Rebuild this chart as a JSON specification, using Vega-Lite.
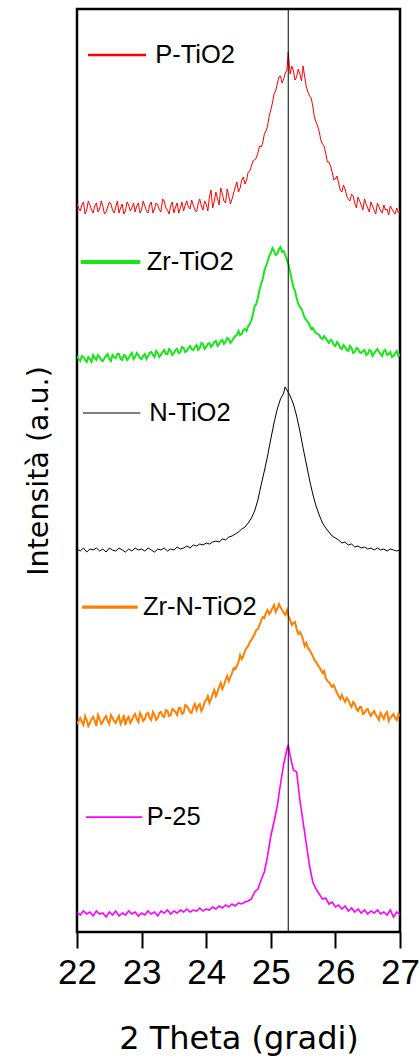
{
  "$schema": "https://vega.github.io/schema/vega-lite/v6.json",
  "width": 323,
  "height": 923,
  "autosize": {"type": "none"},
  "padding": {"left": 77, "top": 9, "right": 20, "bottom": 127},
  "background": "white",
  "config": {"view": {"stroke": "black", "strokeWidth": 2.5}},
  "datasets": {
    "scans": [
      {"s":"P-TiO2","t":22,"v":728},{"s":"P-TiO2","t":22.05,"v":721},{"s":"P-TiO2","t":22.1,"v":730},{"s":"P-TiO2","t":22.15,"v":722},{"s":"P-TiO2","t":22.2,"v":727},
      {"s":"P-TiO2","t":22.25,"v":719},{"s":"P-TiO2","t":22.3,"v":729},{"s":"P-TiO2","t":22.35,"v":723},{"s":"P-TiO2","t":22.4,"v":726},{"s":"P-TiO2","t":22.45,"v":720},
      {"s":"P-TiO2","t":22.5,"v":730},{"s":"P-TiO2","t":22.55,"v":722},{"s":"P-TiO2","t":22.6,"v":725},{"s":"P-TiO2","t":22.65,"v":719},{"s":"P-TiO2","t":22.7,"v":728},
      {"s":"P-TiO2","t":22.75,"v":721},{"s":"P-TiO2","t":22.8,"v":727},{"s":"P-TiO2","t":22.85,"v":724},{"s":"P-TiO2","t":22.9,"v":720},{"s":"P-TiO2","t":22.95,"v":729},
      {"s":"P-TiO2","t":23,"v":722},{"s":"P-TiO2","t":23.05,"v":726},{"s":"P-TiO2","t":23.1,"v":719},{"s":"P-TiO2","t":23.15,"v":730},{"s":"P-TiO2","t":23.2,"v":723},
      {"s":"P-TiO2","t":23.25,"v":727},{"s":"P-TiO2","t":23.3,"v":720},{"s":"P-TiO2","t":23.35,"v":731},{"s":"P-TiO2","t":23.4,"v":722},{"s":"P-TiO2","t":23.45,"v":726},
      {"s":"P-TiO2","t":23.5,"v":719},{"s":"P-TiO2","t":23.55,"v":729},{"s":"P-TiO2","t":23.6,"v":724},{"s":"P-TiO2","t":23.65,"v":721},{"s":"P-TiO2","t":23.7,"v":731},
      {"s":"P-TiO2","t":23.75,"v":723},{"s":"P-TiO2","t":23.8,"v":727},{"s":"P-TiO2","t":23.85,"v":720},{"s":"P-TiO2","t":23.9,"v":733},{"s":"P-TiO2","t":23.95,"v":722},
      {"s":"P-TiO2","t":24,"v":728},{"s":"P-TiO2","t":24.05,"v":735},{"s":"P-TiO2","t":24.1,"v":724},{"s":"P-TiO2","t":24.15,"v":740},{"s":"P-TiO2","t":24.2,"v":727},
      {"s":"P-TiO2","t":24.25,"v":738},{"s":"P-TiO2","t":24.3,"v":729},{"s":"P-TiO2","t":24.35,"v":736},{"s":"P-TiO2","t":24.4,"v":733},{"s":"P-TiO2","t":24.45,"v":745},
      {"s":"P-TiO2","t":24.5,"v":740},{"s":"P-TiO2","t":24.55,"v":752},{"s":"P-TiO2","t":24.6,"v":748},{"s":"P-TiO2","t":24.65,"v":760},{"s":"P-TiO2","t":24.7,"v":766},
      {"s":"P-TiO2","t":24.75,"v":772},{"s":"P-TiO2","t":24.8,"v":779},{"s":"P-TiO2","t":24.85,"v":785},{"s":"P-TiO2","t":24.9,"v":798},{"s":"P-TiO2","t":24.95,"v":806},
      {"s":"P-TiO2","t":25,"v":822},{"s":"P-TiO2","t":25.05,"v":838},{"s":"P-TiO2","t":25.1,"v":848},{"s":"P-TiO2","t":25.15,"v":856},{"s":"P-TiO2","t":25.2,"v":853},
      {"s":"P-TiO2","t":25.25,"v":862},{"s":"P-TiO2","t":25.27,"v":880},{"s":"P-TiO2","t":25.3,"v":858},{"s":"P-TiO2","t":25.35,"v":861},{"s":"P-TiO2","t":25.4,"v":855},{"s":"P-TiO2","t":25.45,"v":858},
      {"s":"P-TiO2","t":25.5,"v":866},{"s":"P-TiO2","t":25.55,"v":845},{"s":"P-TiO2","t":25.6,"v":836},{"s":"P-TiO2","t":25.65,"v":826},{"s":"P-TiO2","t":25.7,"v":810},
      {"s":"P-TiO2","t":25.75,"v":800},{"s":"P-TiO2","t":25.8,"v":788},{"s":"P-TiO2","t":25.85,"v":779},{"s":"P-TiO2","t":25.9,"v":770},{"s":"P-TiO2","t":25.95,"v":760},
      {"s":"P-TiO2","t":26,"v":753},{"s":"P-TiO2","t":26.05,"v":749},{"s":"P-TiO2","t":26.1,"v":740},{"s":"P-TiO2","t":26.15,"v":743},{"s":"P-TiO2","t":26.2,"v":733},
      {"s":"P-TiO2","t":26.25,"v":738},{"s":"P-TiO2","t":26.3,"v":729},{"s":"P-TiO2","t":26.35,"v":735},{"s":"P-TiO2","t":26.4,"v":727},{"s":"P-TiO2","t":26.45,"v":733},
      {"s":"P-TiO2","t":26.5,"v":724},{"s":"P-TiO2","t":26.55,"v":730},{"s":"P-TiO2","t":26.6,"v":722},{"s":"P-TiO2","t":26.65,"v":729},{"s":"P-TiO2","t":26.7,"v":721},
      {"s":"P-TiO2","t":26.75,"v":727},{"s":"P-TiO2","t":26.8,"v":723},{"s":"P-TiO2","t":26.85,"v":726},{"s":"P-TiO2","t":26.9,"v":720},{"s":"P-TiO2","t":26.95,"v":724},
      {"s":"P-TiO2","t":27,"v":721},
      {"s":"P-TiO2","t":22.025,"v":724},{"s":"P-TiO2","t":22.075,"v":727},{"s":"P-TiO2","t":22.125,"v":718},{"s":"P-TiO2","t":22.175,"v":731},{"s":"P-TiO2","t":22.225,"v":722},
      {"s":"P-TiO2","t":22.275,"v":726},{"s":"P-TiO2","t":22.325,"v":720},{"s":"P-TiO2","t":22.375,"v":731},{"s":"P-TiO2","t":22.425,"v":718},{"s":"P-TiO2","t":22.475,"v":725},
      {"s":"P-TiO2","t":22.525,"v":728},{"s":"P-TiO2","t":22.575,"v":719},{"s":"P-TiO2","t":22.625,"v":731},{"s":"P-TiO2","t":22.675,"v":724},{"s":"P-TiO2","t":22.725,"v":718},
      {"s":"P-TiO2","t":22.775,"v":730},{"s":"P-TiO2","t":22.825,"v":721},{"s":"P-TiO2","t":22.875,"v":729},{"s":"P-TiO2","t":22.925,"v":726},{"s":"P-TiO2","t":22.975,"v":719},
      {"s":"P-TiO2","t":23.025,"v":731},{"s":"P-TiO2","t":23.075,"v":721},{"s":"P-TiO2","t":23.125,"v":727},{"s":"P-TiO2","t":23.175,"v":719},{"s":"P-TiO2","t":23.225,"v":729},
      {"s":"P-TiO2","t":23.275,"v":722},{"s":"P-TiO2","t":23.325,"v":733},{"s":"P-TiO2","t":23.375,"v":724},{"s":"P-TiO2","t":23.425,"v":718},{"s":"P-TiO2","t":23.475,"v":730},
      {"s":"P-TiO2","t":23.525,"v":725},{"s":"P-TiO2","t":23.575,"v":719},{"s":"P-TiO2","t":23.625,"v":730},{"s":"P-TiO2","t":23.675,"v":727},{"s":"P-TiO2","t":23.725,"v":725},
      {"s":"P-TiO2","t":23.775,"v":732},{"s":"P-TiO2","t":23.825,"v":722},{"s":"P-TiO2","t":23.875,"v":728},{"s":"P-TiO2","t":23.925,"v":726},{"s":"P-TiO2","t":23.975,"v":731},
      {"s":"P-TiO2","t":24.025,"v":721},{"s":"P-TiO2","t":24.075,"v":742},{"s":"P-TiO2","t":24.125,"v":731},{"s":"P-TiO2","t":24.175,"v":733},{"s":"P-TiO2","t":24.225,"v":744},
      {"s":"P-TiO2","t":24.275,"v":731},{"s":"P-TiO2","t":24.325,"v":743},{"s":"P-TiO2","t":24.375,"v":728},{"s":"P-TiO2","t":24.425,"v":739},{"s":"P-TiO2","t":24.475,"v":750},
      {"s":"P-TiO2","t":24.525,"v":744},{"s":"P-TiO2","t":24.575,"v":755},{"s":"P-TiO2","t":24.625,"v":752},{"s":"P-TiO2","t":24.675,"v":761},{"s":"P-TiO2","t":24.725,"v":771},
      {"s":"P-TiO2","t":24.775,"v":774},{"s":"P-TiO2","t":24.825,"v":786},{"s":"P-TiO2","t":24.875,"v":789},{"s":"P-TiO2","t":24.925,"v":801},{"s":"P-TiO2","t":24.975,"v":816},
      {"s":"P-TiO2","t":25.025,"v":829},{"s":"P-TiO2","t":25.075,"v":841},{"s":"P-TiO2","t":25.125,"v":855},{"s":"P-TiO2","t":25.175,"v":849},{"s":"P-TiO2","t":25.225,"v":859},
      {"s":"P-TiO2","t":25.325,"v":866},{"s":"P-TiO2","t":25.375,"v":852},{"s":"P-TiO2","t":25.425,"v":863},{"s":"P-TiO2","t":25.475,"v":851},
      {"s":"P-TiO2","t":25.525,"v":855},{"s":"P-TiO2","t":25.575,"v":840},{"s":"P-TiO2","t":25.625,"v":834},{"s":"P-TiO2","t":25.675,"v":815},{"s":"P-TiO2","t":25.725,"v":806},
      {"s":"P-TiO2","t":25.775,"v":792},{"s":"P-TiO2","t":25.825,"v":786},{"s":"P-TiO2","t":25.875,"v":770},{"s":"P-TiO2","t":25.925,"v":766},{"s":"P-TiO2","t":25.975,"v":752},
      {"s":"P-TiO2","t":26.025,"v":756},{"s":"P-TiO2","t":26.075,"v":742},{"s":"P-TiO2","t":26.125,"v":747},{"s":"P-TiO2","t":26.175,"v":736},{"s":"P-TiO2","t":26.225,"v":731},
      {"s":"P-TiO2","t":26.275,"v":736},{"s":"P-TiO2","t":26.325,"v":724},{"s":"P-TiO2","t":26.375,"v":731},{"s":"P-TiO2","t":26.425,"v":722},{"s":"P-TiO2","t":26.475,"v":728},
      {"s":"P-TiO2","t":26.525,"v":720},{"s":"P-TiO2","t":26.575,"v":726},{"s":"P-TiO2","t":26.625,"v":718},{"s":"P-TiO2","t":26.675,"v":725},{"s":"P-TiO2","t":26.725,"v":719},
      {"s":"P-TiO2","t":26.775,"v":722},{"s":"P-TiO2","t":26.825,"v":717},{"s":"P-TiO2","t":26.875,"v":723},{"s":"P-TiO2","t":26.925,"v":718},{"s":"P-TiO2","t":26.975,"v":719},

      {"s":"Zr-TiO2","t":22,"v":576},{"s":"Zr-TiO2","t":22.05,"v":571},{"s":"Zr-TiO2","t":22.1,"v":575},{"s":"Zr-TiO2","t":22.15,"v":570},{"s":"Zr-TiO2","t":22.2,"v":573},
      {"s":"Zr-TiO2","t":22.25,"v":577},{"s":"Zr-TiO2","t":22.3,"v":572},{"s":"Zr-TiO2","t":22.35,"v":575},{"s":"Zr-TiO2","t":22.4,"v":571},{"s":"Zr-TiO2","t":22.45,"v":576},
      {"s":"Zr-TiO2","t":22.5,"v":573},{"s":"Zr-TiO2","t":22.55,"v":577},{"s":"Zr-TiO2","t":22.6,"v":574},{"s":"Zr-TiO2","t":22.65,"v":578},{"s":"Zr-TiO2","t":22.7,"v":572},
      {"s":"Zr-TiO2","t":22.75,"v":576},{"s":"Zr-TiO2","t":22.8,"v":574},{"s":"Zr-TiO2","t":22.85,"v":579},{"s":"Zr-TiO2","t":22.9,"v":575},{"s":"Zr-TiO2","t":22.95,"v":577},
      {"s":"Zr-TiO2","t":23,"v":573},{"s":"Zr-TiO2","t":23.05,"v":578},{"s":"Zr-TiO2","t":23.1,"v":576},{"s":"Zr-TiO2","t":23.15,"v":580},{"s":"Zr-TiO2","t":23.2,"v":575},
      {"s":"Zr-TiO2","t":23.25,"v":579},{"s":"Zr-TiO2","t":23.3,"v":577},{"s":"Zr-TiO2","t":23.35,"v":582},{"s":"Zr-TiO2","t":23.4,"v":578},{"s":"Zr-TiO2","t":23.45,"v":581},
      {"s":"Zr-TiO2","t":23.5,"v":579},{"s":"Zr-TiO2","t":23.55,"v":583},{"s":"Zr-TiO2","t":23.6,"v":580},{"s":"Zr-TiO2","t":23.65,"v":584},{"s":"Zr-TiO2","t":23.7,"v":581},
      {"s":"Zr-TiO2","t":23.75,"v":586},{"s":"Zr-TiO2","t":23.8,"v":582},{"s":"Zr-TiO2","t":23.85,"v":587},{"s":"Zr-TiO2","t":23.9,"v":584},{"s":"Zr-TiO2","t":23.95,"v":588},
      {"s":"Zr-TiO2","t":24,"v":585},{"s":"Zr-TiO2","t":24.05,"v":589},{"s":"Zr-TiO2","t":24.1,"v":587},{"s":"Zr-TiO2","t":24.15,"v":591},{"s":"Zr-TiO2","t":24.2,"v":588},
      {"s":"Zr-TiO2","t":24.25,"v":592},{"s":"Zr-TiO2","t":24.3,"v":590},{"s":"Zr-TiO2","t":24.35,"v":593},{"s":"Zr-TiO2","t":24.4,"v":591},{"s":"Zr-TiO2","t":24.45,"v":596},
      {"s":"Zr-TiO2","t":24.5,"v":601},{"s":"Zr-TiO2","t":24.55,"v":598},{"s":"Zr-TiO2","t":24.6,"v":603},{"s":"Zr-TiO2","t":24.65,"v":606},{"s":"Zr-TiO2","t":24.7,"v":612},
      {"s":"Zr-TiO2","t":24.75,"v":626},{"s":"Zr-TiO2","t":24.8,"v":634},{"s":"Zr-TiO2","t":24.85,"v":648},{"s":"Zr-TiO2","t":24.9,"v":661},{"s":"Zr-TiO2","t":24.95,"v":670},
      {"s":"Zr-TiO2","t":25,"v":679},{"s":"Zr-TiO2","t":25.05,"v":681},{"s":"Zr-TiO2","t":25.1,"v":678},{"s":"Zr-TiO2","t":25.15,"v":685},{"s":"Zr-TiO2","t":25.2,"v":681},
      {"s":"Zr-TiO2","t":25.25,"v":672},{"s":"Zr-TiO2","t":25.3,"v":660},{"s":"Zr-TiO2","t":25.35,"v":645},{"s":"Zr-TiO2","t":25.4,"v":634},{"s":"Zr-TiO2","t":25.45,"v":625},
      {"s":"Zr-TiO2","t":25.5,"v":619},{"s":"Zr-TiO2","t":25.55,"v":612},{"s":"Zr-TiO2","t":25.6,"v":607},{"s":"Zr-TiO2","t":25.65,"v":604},{"s":"Zr-TiO2","t":25.7,"v":599},
      {"s":"Zr-TiO2","t":25.75,"v":597},{"s":"Zr-TiO2","t":25.8,"v":593},{"s":"Zr-TiO2","t":25.85,"v":594},{"s":"Zr-TiO2","t":25.9,"v":589},{"s":"Zr-TiO2","t":25.95,"v":591},
      {"s":"Zr-TiO2","t":26,"v":586},{"s":"Zr-TiO2","t":26.05,"v":588},{"s":"Zr-TiO2","t":26.1,"v":583},{"s":"Zr-TiO2","t":26.15,"v":585},{"s":"Zr-TiO2","t":26.2,"v":581},
      {"s":"Zr-TiO2","t":26.25,"v":584},{"s":"Zr-TiO2","t":26.3,"v":580},{"s":"Zr-TiO2","t":26.35,"v":583},{"s":"Zr-TiO2","t":26.4,"v":579},{"s":"Zr-TiO2","t":26.45,"v":582},
      {"s":"Zr-TiO2","t":26.5,"v":578},{"s":"Zr-TiO2","t":26.55,"v":581},{"s":"Zr-TiO2","t":26.6,"v":579},{"s":"Zr-TiO2","t":26.65,"v":583},{"s":"Zr-TiO2","t":26.7,"v":578},
      {"s":"Zr-TiO2","t":26.75,"v":581},{"s":"Zr-TiO2","t":26.8,"v":577},{"s":"Zr-TiO2","t":26.85,"v":580},{"s":"Zr-TiO2","t":26.9,"v":576},{"s":"Zr-TiO2","t":26.95,"v":581},
      {"s":"Zr-TiO2","t":27,"v":578},
      {"s":"Zr-TiO2","t":22.025,"v":573},{"s":"Zr-TiO2","t":22.075,"v":576},{"s":"Zr-TiO2","t":22.125,"v":572},{"s":"Zr-TiO2","t":22.175,"v":575},{"s":"Zr-TiO2","t":22.225,"v":570},
      {"s":"Zr-TiO2","t":22.275,"v":574},{"s":"Zr-TiO2","t":22.325,"v":577},{"s":"Zr-TiO2","t":22.375,"v":572},{"s":"Zr-TiO2","t":22.425,"v":574},{"s":"Zr-TiO2","t":22.475,"v":578},
      {"s":"Zr-TiO2","t":22.525,"v":571},{"s":"Zr-TiO2","t":22.575,"v":575},{"s":"Zr-TiO2","t":22.625,"v":578},{"s":"Zr-TiO2","t":22.675,"v":573},{"s":"Zr-TiO2","t":22.725,"v":577},
      {"s":"Zr-TiO2","t":22.775,"v":572},{"s":"Zr-TiO2","t":22.825,"v":577},{"s":"Zr-TiO2","t":22.875,"v":573},{"s":"Zr-TiO2","t":22.925,"v":579},{"s":"Zr-TiO2","t":22.975,"v":574},
      {"s":"Zr-TiO2","t":23.025,"v":576},{"s":"Zr-TiO2","t":23.075,"v":573},{"s":"Zr-TiO2","t":23.125,"v":579},{"s":"Zr-TiO2","t":23.175,"v":577},{"s":"Zr-TiO2","t":23.225,"v":581},
      {"s":"Zr-TiO2","t":23.275,"v":575},{"s":"Zr-TiO2","t":23.325,"v":580},{"s":"Zr-TiO2","t":23.375,"v":578},{"s":"Zr-TiO2","t":23.425,"v":583},{"s":"Zr-TiO2","t":23.475,"v":577},
      {"s":"Zr-TiO2","t":23.525,"v":582},{"s":"Zr-TiO2","t":23.575,"v":579},{"s":"Zr-TiO2","t":23.625,"v":585},{"s":"Zr-TiO2","t":23.675,"v":580},{"s":"Zr-TiO2","t":23.725,"v":584},
      {"s":"Zr-TiO2","t":23.775,"v":583},{"s":"Zr-TiO2","t":23.825,"v":585},{"s":"Zr-TiO2","t":23.875,"v":582},{"s":"Zr-TiO2","t":23.925,"v":589},{"s":"Zr-TiO2","t":23.975,"v":583},
      {"s":"Zr-TiO2","t":24.025,"v":588},{"s":"Zr-TiO2","t":24.075,"v":585},{"s":"Zr-TiO2","t":24.125,"v":590},{"s":"Zr-TiO2","t":24.175,"v":586},{"s":"Zr-TiO2","t":24.225,"v":591},
      {"s":"Zr-TiO2","t":24.275,"v":588},{"s":"Zr-TiO2","t":24.325,"v":594},{"s":"Zr-TiO2","t":24.375,"v":589},{"s":"Zr-TiO2","t":24.425,"v":594},{"s":"Zr-TiO2","t":24.475,"v":597},
      {"s":"Zr-TiO2","t":24.525,"v":597},{"s":"Zr-TiO2","t":24.575,"v":602},{"s":"Zr-TiO2","t":24.625,"v":601},{"s":"Zr-TiO2","t":24.675,"v":608},{"s":"Zr-TiO2","t":24.725,"v":618},
      {"s":"Zr-TiO2","t":24.775,"v":628},{"s":"Zr-TiO2","t":24.825,"v":642},{"s":"Zr-TiO2","t":24.875,"v":653},{"s":"Zr-TiO2","t":24.925,"v":666},{"s":"Zr-TiO2","t":24.975,"v":676},
      {"s":"Zr-TiO2","t":25.025,"v":684},{"s":"Zr-TiO2","t":25.075,"v":677},{"s":"Zr-TiO2","t":25.125,"v":683},{"s":"Zr-TiO2","t":25.175,"v":680},{"s":"Zr-TiO2","t":25.225,"v":677},
      {"s":"Zr-TiO2","t":25.275,"v":667},{"s":"Zr-TiO2","t":25.325,"v":652},{"s":"Zr-TiO2","t":25.375,"v":641},{"s":"Zr-TiO2","t":25.425,"v":628},{"s":"Zr-TiO2","t":25.475,"v":623},
      {"s":"Zr-TiO2","t":25.525,"v":614},{"s":"Zr-TiO2","t":25.575,"v":610},{"s":"Zr-TiO2","t":25.625,"v":603},{"s":"Zr-TiO2","t":25.675,"v":601},{"s":"Zr-TiO2","t":25.725,"v":598},
      {"s":"Zr-TiO2","t":25.775,"v":594},{"s":"Zr-TiO2","t":25.825,"v":596},{"s":"Zr-TiO2","t":25.875,"v":591},{"s":"Zr-TiO2","t":25.925,"v":592},{"s":"Zr-TiO2","t":25.975,"v":587},
      {"s":"Zr-TiO2","t":26.025,"v":590},{"s":"Zr-TiO2","t":26.075,"v":584},{"s":"Zr-TiO2","t":26.125,"v":587},{"s":"Zr-TiO2","t":26.175,"v":582},{"s":"Zr-TiO2","t":26.225,"v":586},
      {"s":"Zr-TiO2","t":26.275,"v":579},{"s":"Zr-TiO2","t":26.325,"v":584},{"s":"Zr-TiO2","t":26.375,"v":580},{"s":"Zr-TiO2","t":26.425,"v":581},{"s":"Zr-TiO2","t":26.475,"v":577},
      {"s":"Zr-TiO2","t":26.525,"v":582},{"s":"Zr-TiO2","t":26.575,"v":576},{"s":"Zr-TiO2","t":26.625,"v":581},{"s":"Zr-TiO2","t":26.675,"v":580},{"s":"Zr-TiO2","t":26.725,"v":576},
      {"s":"Zr-TiO2","t":26.775,"v":582},{"s":"Zr-TiO2","t":26.825,"v":578},{"s":"Zr-TiO2","t":26.875,"v":575},{"s":"Zr-TiO2","t":26.925,"v":579},{"s":"Zr-TiO2","t":26.975,"v":576},

      {"s":"N-TiO2","t":22,"v":383},{"s":"N-TiO2","t":22.05,"v":381},{"s":"N-TiO2","t":22.1,"v":384},{"s":"N-TiO2","t":22.15,"v":380},{"s":"N-TiO2","t":22.2,"v":383},
      {"s":"N-TiO2","t":22.25,"v":382},{"s":"N-TiO2","t":22.3,"v":384},{"s":"N-TiO2","t":22.35,"v":381},{"s":"N-TiO2","t":22.4,"v":383},{"s":"N-TiO2","t":22.45,"v":380},
      {"s":"N-TiO2","t":22.5,"v":384},{"s":"N-TiO2","t":22.55,"v":382},{"s":"N-TiO2","t":22.6,"v":381},{"s":"N-TiO2","t":22.65,"v":384},{"s":"N-TiO2","t":22.7,"v":382},
      {"s":"N-TiO2","t":22.75,"v":380},{"s":"N-TiO2","t":22.8,"v":383},{"s":"N-TiO2","t":22.85,"v":381},{"s":"N-TiO2","t":22.9,"v":384},{"s":"N-TiO2","t":22.95,"v":382},
      {"s":"N-TiO2","t":23,"v":383},{"s":"N-TiO2","t":23.05,"v":381},{"s":"N-TiO2","t":23.1,"v":384},{"s":"N-TiO2","t":23.15,"v":382},{"s":"N-TiO2","t":23.2,"v":380},
      {"s":"N-TiO2","t":23.25,"v":383},{"s":"N-TiO2","t":23.3,"v":382},{"s":"N-TiO2","t":23.35,"v":384},{"s":"N-TiO2","t":23.4,"v":381},{"s":"N-TiO2","t":23.45,"v":383},
      {"s":"N-TiO2","t":23.5,"v":382},{"s":"N-TiO2","t":23.55,"v":385},{"s":"N-TiO2","t":23.6,"v":383},{"s":"N-TiO2","t":23.65,"v":384},{"s":"N-TiO2","t":23.7,"v":386},
      {"s":"N-TiO2","t":23.75,"v":384},{"s":"N-TiO2","t":23.8,"v":387},{"s":"N-TiO2","t":23.85,"v":386},{"s":"N-TiO2","t":23.9,"v":388},{"s":"N-TiO2","t":23.95,"v":387},
      {"s":"N-TiO2","t":24,"v":389},{"s":"N-TiO2","t":24.05,"v":388},{"s":"N-TiO2","t":24.1,"v":390},{"s":"N-TiO2","t":24.15,"v":391},{"s":"N-TiO2","t":24.2,"v":390},
      {"s":"N-TiO2","t":24.25,"v":393},{"s":"N-TiO2","t":24.3,"v":392},{"s":"N-TiO2","t":24.35,"v":395},{"s":"N-TiO2","t":24.4,"v":396},{"s":"N-TiO2","t":24.45,"v":398},
      {"s":"N-TiO2","t":24.5,"v":400},{"s":"N-TiO2","t":24.55,"v":403},{"s":"N-TiO2","t":24.6,"v":405},{"s":"N-TiO2","t":24.65,"v":409},{"s":"N-TiO2","t":24.7,"v":414},
      {"s":"N-TiO2","t":24.75,"v":421},{"s":"N-TiO2","t":24.8,"v":432},{"s":"N-TiO2","t":24.85,"v":447},{"s":"N-TiO2","t":24.9,"v":461},{"s":"N-TiO2","t":24.95,"v":476},
      {"s":"N-TiO2","t":25,"v":493},{"s":"N-TiO2","t":25.05,"v":509},{"s":"N-TiO2","t":25.1,"v":523},{"s":"N-TiO2","t":25.15,"v":533},{"s":"N-TiO2","t":25.2,"v":539},
      {"s":"N-TiO2","t":25.22,"v":545},{"s":"N-TiO2","t":25.25,"v":542},{"s":"N-TiO2","t":25.3,"v":536},{"s":"N-TiO2","t":25.35,"v":528},{"s":"N-TiO2","t":25.4,"v":516},{"s":"N-TiO2","t":25.45,"v":501},
      {"s":"N-TiO2","t":25.5,"v":484},{"s":"N-TiO2","t":25.55,"v":468},{"s":"N-TiO2","t":25.6,"v":452},{"s":"N-TiO2","t":25.65,"v":438},{"s":"N-TiO2","t":25.7,"v":426},
      {"s":"N-TiO2","t":25.75,"v":417},{"s":"N-TiO2","t":25.8,"v":409},{"s":"N-TiO2","t":25.85,"v":404},{"s":"N-TiO2","t":25.9,"v":400},{"s":"N-TiO2","t":25.95,"v":396},
      {"s":"N-TiO2","t":26,"v":394},{"s":"N-TiO2","t":26.05,"v":392},{"s":"N-TiO2","t":26.1,"v":389},{"s":"N-TiO2","t":26.15,"v":390},{"s":"N-TiO2","t":26.2,"v":387},
      {"s":"N-TiO2","t":26.25,"v":388},{"s":"N-TiO2","t":26.3,"v":385},{"s":"N-TiO2","t":26.35,"v":386},{"s":"N-TiO2","t":26.4,"v":384},{"s":"N-TiO2","t":26.45,"v":385},
      {"s":"N-TiO2","t":26.5,"v":383},{"s":"N-TiO2","t":26.55,"v":384},{"s":"N-TiO2","t":26.6,"v":382},{"s":"N-TiO2","t":26.65,"v":384},{"s":"N-TiO2","t":26.7,"v":382},
      {"s":"N-TiO2","t":26.75,"v":383},{"s":"N-TiO2","t":26.8,"v":381},{"s":"N-TiO2","t":26.85,"v":383},{"s":"N-TiO2","t":26.9,"v":382},{"s":"N-TiO2","t":26.95,"v":381},
      {"s":"N-TiO2","t":27,"v":382},

      {"s":"Zr-N-TiO2","t":22,"v":208},{"s":"Zr-N-TiO2","t":22.05,"v":214},{"s":"Zr-N-TiO2","t":22.1,"v":207},{"s":"Zr-N-TiO2","t":22.15,"v":212},{"s":"Zr-N-TiO2","t":22.2,"v":209},
      {"s":"Zr-N-TiO2","t":22.25,"v":215},{"s":"Zr-N-TiO2","t":22.3,"v":206},{"s":"Zr-N-TiO2","t":22.35,"v":213},{"s":"Zr-N-TiO2","t":22.4,"v":210},{"s":"Zr-N-TiO2","t":22.45,"v":216},
      {"s":"Zr-N-TiO2","t":22.5,"v":208},{"s":"Zr-N-TiO2","t":22.55,"v":214},{"s":"Zr-N-TiO2","t":22.6,"v":209},{"s":"Zr-N-TiO2","t":22.65,"v":216},{"s":"Zr-N-TiO2","t":22.7,"v":211},
      {"s":"Zr-N-TiO2","t":22.75,"v":207},{"s":"Zr-N-TiO2","t":22.8,"v":215},{"s":"Zr-N-TiO2","t":22.85,"v":212},{"s":"Zr-N-TiO2","t":22.9,"v":218},{"s":"Zr-N-TiO2","t":22.95,"v":210},
      {"s":"Zr-N-TiO2","t":23,"v":216},{"s":"Zr-N-TiO2","t":23.05,"v":213},{"s":"Zr-N-TiO2","t":23.1,"v":219},{"s":"Zr-N-TiO2","t":23.15,"v":212},{"s":"Zr-N-TiO2","t":23.2,"v":217},
      {"s":"Zr-N-TiO2","t":23.25,"v":214},{"s":"Zr-N-TiO2","t":23.3,"v":220},{"s":"Zr-N-TiO2","t":23.35,"v":215},{"s":"Zr-N-TiO2","t":23.4,"v":221},{"s":"Zr-N-TiO2","t":23.45,"v":217},
      {"s":"Zr-N-TiO2","t":23.5,"v":222},{"s":"Zr-N-TiO2","t":23.55,"v":217},{"s":"Zr-N-TiO2","t":23.6,"v":224},{"s":"Zr-N-TiO2","t":23.65,"v":219},{"s":"Zr-N-TiO2","t":23.7,"v":226},
      {"s":"Zr-N-TiO2","t":23.75,"v":220},{"s":"Zr-N-TiO2","t":23.8,"v":225},{"s":"Zr-N-TiO2","t":23.85,"v":222},{"s":"Zr-N-TiO2","t":23.9,"v":228},{"s":"Zr-N-TiO2","t":23.95,"v":224},
      {"s":"Zr-N-TiO2","t":24,"v":232},{"s":"Zr-N-TiO2","t":24.05,"v":229},{"s":"Zr-N-TiO2","t":24.1,"v":238},{"s":"Zr-N-TiO2","t":24.15,"v":236},{"s":"Zr-N-TiO2","t":24.2,"v":245},
      {"s":"Zr-N-TiO2","t":24.25,"v":243},{"s":"Zr-N-TiO2","t":24.3,"v":252},{"s":"Zr-N-TiO2","t":24.35,"v":251},{"s":"Zr-N-TiO2","t":24.4,"v":259},{"s":"Zr-N-TiO2","t":24.45,"v":263},
      {"s":"Zr-N-TiO2","t":24.5,"v":270},{"s":"Zr-N-TiO2","t":24.55,"v":273},{"s":"Zr-N-TiO2","t":24.6,"v":281},{"s":"Zr-N-TiO2","t":24.65,"v":286},{"s":"Zr-N-TiO2","t":24.7,"v":292},
      {"s":"Zr-N-TiO2","t":24.75,"v":298},{"s":"Zr-N-TiO2","t":24.8,"v":303},{"s":"Zr-N-TiO2","t":24.85,"v":311},{"s":"Zr-N-TiO2","t":24.9,"v":314},{"s":"Zr-N-TiO2","t":24.95,"v":322},
      {"s":"Zr-N-TiO2","t":25,"v":320},{"s":"Zr-N-TiO2","t":25.05,"v":327},{"s":"Zr-N-TiO2","t":25.1,"v":323},{"s":"Zr-N-TiO2","t":25.15,"v":325},{"s":"Zr-N-TiO2","t":25.2,"v":319},
      {"s":"Zr-N-TiO2","t":25.25,"v":322},{"s":"Zr-N-TiO2","t":25.3,"v":312},{"s":"Zr-N-TiO2","t":25.35,"v":309},{"s":"Zr-N-TiO2","t":25.4,"v":303},{"s":"Zr-N-TiO2","t":25.45,"v":300},
      {"s":"Zr-N-TiO2","t":25.5,"v":292},{"s":"Zr-N-TiO2","t":25.55,"v":289},{"s":"Zr-N-TiO2","t":25.6,"v":282},{"s":"Zr-N-TiO2","t":25.65,"v":276},{"s":"Zr-N-TiO2","t":25.7,"v":270},
      {"s":"Zr-N-TiO2","t":25.75,"v":265},{"s":"Zr-N-TiO2","t":25.8,"v":259},{"s":"Zr-N-TiO2","t":25.85,"v":254},{"s":"Zr-N-TiO2","t":25.9,"v":250},{"s":"Zr-N-TiO2","t":25.95,"v":245},
      {"s":"Zr-N-TiO2","t":26,"v":243},{"s":"Zr-N-TiO2","t":26.05,"v":236},{"s":"Zr-N-TiO2","t":26.1,"v":237},{"s":"Zr-N-TiO2","t":26.15,"v":230},{"s":"Zr-N-TiO2","t":26.2,"v":232},
      {"s":"Zr-N-TiO2","t":26.25,"v":225},{"s":"Zr-N-TiO2","t":26.3,"v":228},{"s":"Zr-N-TiO2","t":26.35,"v":221},{"s":"Zr-N-TiO2","t":26.4,"v":225},{"s":"Zr-N-TiO2","t":26.45,"v":219},
      {"s":"Zr-N-TiO2","t":26.5,"v":223},{"s":"Zr-N-TiO2","t":26.55,"v":216},{"s":"Zr-N-TiO2","t":26.6,"v":221},{"s":"Zr-N-TiO2","t":26.65,"v":215},{"s":"Zr-N-TiO2","t":26.7,"v":219},
      {"s":"Zr-N-TiO2","t":26.75,"v":213},{"s":"Zr-N-TiO2","t":26.8,"v":220},{"s":"Zr-N-TiO2","t":26.85,"v":214},{"s":"Zr-N-TiO2","t":26.9,"v":218},{"s":"Zr-N-TiO2","t":26.95,"v":212},
      {"s":"Zr-N-TiO2","t":27,"v":216},
      {"s":"Zr-N-TiO2","t":22.025,"v":211},{"s":"Zr-N-TiO2","t":22.075,"v":210},{"s":"Zr-N-TiO2","t":22.125,"v":216},{"s":"Zr-N-TiO2","t":22.175,"v":206},{"s":"Zr-N-TiO2","t":22.225,"v":213},
      {"s":"Zr-N-TiO2","t":22.275,"v":211},{"s":"Zr-N-TiO2","t":22.325,"v":217},{"s":"Zr-N-TiO2","t":22.375,"v":208},{"s":"Zr-N-TiO2","t":22.425,"v":214},{"s":"Zr-N-TiO2","t":22.475,"v":211},
      {"s":"Zr-N-TiO2","t":22.525,"v":217},{"s":"Zr-N-TiO2","t":22.575,"v":211},{"s":"Zr-N-TiO2","t":22.625,"v":213},{"s":"Zr-N-TiO2","t":22.675,"v":208},{"s":"Zr-N-TiO2","t":22.725,"v":217},
      {"s":"Zr-N-TiO2","t":22.775,"v":213},{"s":"Zr-N-TiO2","t":22.825,"v":209},{"s":"Zr-N-TiO2","t":22.875,"v":216},{"s":"Zr-N-TiO2","t":22.925,"v":213},{"s":"Zr-N-TiO2","t":22.975,"v":219},
      {"s":"Zr-N-TiO2","t":23.025,"v":211},{"s":"Zr-N-TiO2","t":23.075,"v":218},{"s":"Zr-N-TiO2","t":23.125,"v":214},{"s":"Zr-N-TiO2","t":23.175,"v":220},{"s":"Zr-N-TiO2","t":23.225,"v":212},
      {"s":"Zr-N-TiO2","t":23.275,"v":219},{"s":"Zr-N-TiO2","t":23.325,"v":216},{"s":"Zr-N-TiO2","t":23.375,"v":222},{"s":"Zr-N-TiO2","t":23.425,"v":216},{"s":"Zr-N-TiO2","t":23.475,"v":223},
      {"s":"Zr-N-TiO2","t":23.525,"v":220},{"s":"Zr-N-TiO2","t":23.575,"v":224},{"s":"Zr-N-TiO2","t":23.625,"v":218},{"s":"Zr-N-TiO2","t":23.675,"v":227},{"s":"Zr-N-TiO2","t":23.725,"v":223},
      {"s":"Zr-N-TiO2","t":23.775,"v":219},{"s":"Zr-N-TiO2","t":23.825,"v":228},{"s":"Zr-N-TiO2","t":23.875,"v":226},{"s":"Zr-N-TiO2","t":23.925,"v":221},{"s":"Zr-N-TiO2","t":23.975,"v":230},
      {"s":"Zr-N-TiO2","t":24.025,"v":236},{"s":"Zr-N-TiO2","t":24.075,"v":233},{"s":"Zr-N-TiO2","t":24.125,"v":242},{"s":"Zr-N-TiO2","t":24.175,"v":240},{"s":"Zr-N-TiO2","t":24.225,"v":249},
      {"s":"Zr-N-TiO2","t":24.275,"v":247},{"s":"Zr-N-TiO2","t":24.325,"v":256},{"s":"Zr-N-TiO2","t":24.375,"v":255},{"s":"Zr-N-TiO2","t":24.425,"v":264},{"s":"Zr-N-TiO2","t":24.475,"v":266},
      {"s":"Zr-N-TiO2","t":24.525,"v":277},{"s":"Zr-N-TiO2","t":24.575,"v":276},{"s":"Zr-N-TiO2","t":24.625,"v":284},{"s":"Zr-N-TiO2","t":24.675,"v":290},{"s":"Zr-N-TiO2","t":24.725,"v":295},
      {"s":"Zr-N-TiO2","t":24.775,"v":302},{"s":"Zr-N-TiO2","t":24.825,"v":307},{"s":"Zr-N-TiO2","t":24.875,"v":315},{"s":"Zr-N-TiO2","t":24.925,"v":319},{"s":"Zr-N-TiO2","t":24.975,"v":318},
      {"s":"Zr-N-TiO2","t":25.025,"v":324},{"s":"Zr-N-TiO2","t":25.075,"v":320},{"s":"Zr-N-TiO2","t":25.125,"v":328},{"s":"Zr-N-TiO2","t":25.175,"v":322},{"s":"Zr-N-TiO2","t":25.225,"v":317},
      {"s":"Zr-N-TiO2","t":25.275,"v":316},{"s":"Zr-N-TiO2","t":25.325,"v":307},{"s":"Zr-N-TiO2","t":25.375,"v":310},{"s":"Zr-N-TiO2","t":25.425,"v":298},{"s":"Zr-N-TiO2","t":25.475,"v":297},
      {"s":"Zr-N-TiO2","t":25.525,"v":286},{"s":"Zr-N-TiO2","t":25.575,"v":284},{"s":"Zr-N-TiO2","t":25.625,"v":279},{"s":"Zr-N-TiO2","t":25.675,"v":272},{"s":"Zr-N-TiO2","t":25.725,"v":267},
      {"s":"Zr-N-TiO2","t":25.775,"v":262},{"s":"Zr-N-TiO2","t":25.825,"v":261},{"s":"Zr-N-TiO2","t":25.875,"v":251},{"s":"Zr-N-TiO2","t":25.925,"v":247},{"s":"Zr-N-TiO2","t":25.975,"v":247},
      {"s":"Zr-N-TiO2","t":26.025,"v":239},{"s":"Zr-N-TiO2","t":26.075,"v":233},{"s":"Zr-N-TiO2","t":26.125,"v":233},{"s":"Zr-N-TiO2","t":26.175,"v":234},{"s":"Zr-N-TiO2","t":26.225,"v":228},
      {"s":"Zr-N-TiO2","t":26.275,"v":230},{"s":"Zr-N-TiO2","t":26.325,"v":223},{"s":"Zr-N-TiO2","t":26.375,"v":225},{"s":"Zr-N-TiO2","t":26.425,"v":218},{"s":"Zr-N-TiO2","t":26.475,"v":222},
      {"s":"Zr-N-TiO2","t":26.525,"v":219},{"s":"Zr-N-TiO2","t":26.575,"v":219},{"s":"Zr-N-TiO2","t":26.625,"v":217},{"s":"Zr-N-TiO2","t":26.675,"v":212},{"s":"Zr-N-TiO2","t":26.725,"v":216},
      {"s":"Zr-N-TiO2","t":26.775,"v":218},{"s":"Zr-N-TiO2","t":26.825,"v":211},{"s":"Zr-N-TiO2","t":26.875,"v":216},{"s":"Zr-N-TiO2","t":26.925,"v":214},{"s":"Zr-N-TiO2","t":26.975,"v":218},

      {"s":"P-25","t":22,"v":20},{"s":"P-25","t":22.05,"v":17},{"s":"P-25","t":22.1,"v":21},{"s":"P-25","t":22.15,"v":18},{"s":"P-25","t":22.2,"v":20},
      {"s":"P-25","t":22.25,"v":16},{"s":"P-25","t":22.3,"v":21},{"s":"P-25","t":22.35,"v":18},{"s":"P-25","t":22.4,"v":19},{"s":"P-25","t":22.45,"v":15},
      {"s":"P-25","t":22.5,"v":20},{"s":"P-25","t":22.55,"v":17},{"s":"P-25","t":22.6,"v":21},{"s":"P-25","t":22.65,"v":16},{"s":"P-25","t":22.7,"v":19},
      {"s":"P-25","t":22.75,"v":17},{"s":"P-25","t":22.8,"v":21},{"s":"P-25","t":22.85,"v":18},{"s":"P-25","t":22.9,"v":20},{"s":"P-25","t":22.95,"v":16},
      {"s":"P-25","t":23,"v":19},{"s":"P-25","t":23.05,"v":17},{"s":"P-25","t":23.1,"v":21},{"s":"P-25","t":23.15,"v":18},{"s":"P-25","t":23.2,"v":20},
      {"s":"P-25","t":23.25,"v":16},{"s":"P-25","t":23.3,"v":21},{"s":"P-25","t":23.35,"v":19},{"s":"P-25","t":23.4,"v":22},{"s":"P-25","t":23.45,"v":18},
      {"s":"P-25","t":23.5,"v":21},{"s":"P-25","t":23.55,"v":19},{"s":"P-25","t":23.6,"v":22},{"s":"P-25","t":23.65,"v":20},{"s":"P-25","t":23.7,"v":23},
      {"s":"P-25","t":23.75,"v":20},{"s":"P-25","t":23.8,"v":22},{"s":"P-25","t":23.85,"v":21},{"s":"P-25","t":23.9,"v":24},{"s":"P-25","t":23.95,"v":21},
      {"s":"P-25","t":24,"v":23},{"s":"P-25","t":24.05,"v":22},{"s":"P-25","t":24.1,"v":25},{"s":"P-25","t":24.15,"v":23},{"s":"P-25","t":24.2,"v":26},
      {"s":"P-25","t":24.25,"v":24},{"s":"P-25","t":24.3,"v":27},{"s":"P-25","t":24.35,"v":25},{"s":"P-25","t":24.4,"v":28},{"s":"P-25","t":24.45,"v":26},
      {"s":"P-25","t":24.5,"v":29},{"s":"P-25","t":24.55,"v":28},{"s":"P-25","t":24.6,"v":30},{"s":"P-25","t":24.65,"v":31},{"s":"P-25","t":24.7,"v":33},
      {"s":"P-25","t":24.75,"v":40},{"s":"P-25","t":24.8,"v":43},{"s":"P-25","t":24.85,"v":52},{"s":"P-25","t":24.9,"v":60},{"s":"P-25","t":24.95,"v":76},
      {"s":"P-25","t":25,"v":96},{"s":"P-25","t":25.05,"v":110},{"s":"P-25","t":25.1,"v":126},{"s":"P-25","t":25.15,"v":148},{"s":"P-25","t":25.2,"v":168},
      {"s":"P-25","t":25.25,"v":183},{"s":"P-25","t":25.27,"v":187},{"s":"P-25","t":25.3,"v":176},{"s":"P-25","t":25.35,"v":162},{"s":"P-25","t":25.4,"v":160},{"s":"P-25","t":25.45,"v":132},
      {"s":"P-25","t":25.5,"v":110},{"s":"P-25","t":25.55,"v":88},{"s":"P-25","t":25.6,"v":66},{"s":"P-25","t":25.65,"v":50},{"s":"P-25","t":25.7,"v":43},
      {"s":"P-25","t":25.75,"v":38},{"s":"P-25","t":25.8,"v":33},{"s":"P-25","t":25.85,"v":34},{"s":"P-25","t":25.9,"v":28},{"s":"P-25","t":25.95,"v":30},
      {"s":"P-25","t":26,"v":25},{"s":"P-25","t":26.05,"v":27},{"s":"P-25","t":26.1,"v":23},{"s":"P-25","t":26.15,"v":26},{"s":"P-25","t":26.2,"v":21},
      {"s":"P-25","t":26.25,"v":24},{"s":"P-25","t":26.3,"v":20},{"s":"P-25","t":26.35,"v":23},{"s":"P-25","t":26.4,"v":19},{"s":"P-25","t":26.45,"v":22},
      {"s":"P-25","t":26.5,"v":18},{"s":"P-25","t":26.55,"v":21},{"s":"P-25","t":26.6,"v":19},{"s":"P-25","t":26.65,"v":22},{"s":"P-25","t":26.7,"v":18},
      {"s":"P-25","t":26.75,"v":20},{"s":"P-25","t":26.8,"v":17},{"s":"P-25","t":26.85,"v":22},{"s":"P-25","t":26.9,"v":15},{"s":"P-25","t":26.95,"v":20},
      {"s":"P-25","t":27,"v":17}
    ],
    "keys": [
      {"s":"P-TiO2","x1":22.17,"x2":23.07,"tx":23.21,"y":877},
      {"s":"Zr-TiO2","x1":22.06,"x2":22.98,"tx":23.08,"y":670},
      {"s":"N-TiO2","x1":22.09,"x2":22.98,"tx":23.12,"y":519},
      {"s":"Zr-N-TiO2","x1":22.08,"x2":22.94,"tx":23.02,"y":325},
      {"s":"P-25","x1":22.14,"x2":23.01,"tx":23.08,"y":115}
    ],
    "peak": [{"t": 25.27}]
  },
  "layer": [
    {
      "data": {"name": "scans"},
      "mark": {"type": "line", "clip": true},
      "encoding": {
        "x": {
          "field": "t", "type": "quantitative",
          "scale": {"domain": [22, 27], "nice": false, "zero": false},
          "axis": {
            "values": [22, 22.5, 23, 23.5, 24, 24.5, 25, 25.5, 26, 26.5, 27],
            "domain": false, "grid": false,
            "tickColor": "black", "tickWidth": 2,
            "tickSize": {"condition": {"test": "datum.value % 1 === 0", "value": 16}, "value": 9},
            "labelExpr": "datum.value % 1 === 0 ? datum.value : ''",
            "labelFont": "Liberation Sans", "labelFontSize": 35, "labelColor": "black",
            "labelPadding": 7, "labelFlush": false, "labelOverlap": false, "labelBound": false,
            "title": "2 Theta (gradi)", "titleFont": "DejaVu Sans", "titleFontSize": 32,
            "titleFontWeight": "normal", "titleColor": "black", "titlePadding": 33
          }
        },
        "y": {
          "field": "v", "type": "quantitative",
          "scale": {"domain": [0, 923], "nice": false, "zero": false},
          "axis": {
            "domain": false, "ticks": false, "labels": false, "grid": false,
            "title": "Intensità (a.u.)", "titleFont": "DejaVu Sans", "titleFontSize": 28.5,
            "titleFontWeight": "normal", "titleColor": "black", "titlePadding": 24
          }
        },
        "color": {
          "field": "s", "type": "nominal", "legend": null,
          "scale": {"domain": ["P-TiO2", "Zr-TiO2", "N-TiO2", "Zr-N-TiO2", "P-25"],
                    "range": ["#ff0000", "#19e619", "#000000", "#ff8000", "#ff00ff"]}
        },
        "strokeWidth": {
          "field": "s", "type": "nominal", "legend": null,
          "scale": {"type": "ordinal", "domain": ["P-TiO2", "Zr-TiO2", "N-TiO2", "Zr-N-TiO2", "P-25"],
                    "range": [1, 2, 1, 2, 1.6]}
        },
        "order": {"field": "t", "type": "quantitative"}
      }
    },
    {
      "data": {"name": "peak"},
      "mark": {"type": "rule", "color": "black", "strokeWidth": 1},
      "encoding": {"x": {"field": "t", "type": "quantitative"}}
    },
    {
      "data": {"name": "keys"},
      "mark": {"type": "rule"},
      "encoding": {
        "x": {"field": "x1", "type": "quantitative"},
        "x2": {"field": "x2"},
        "y": {"field": "y", "type": "quantitative"},
        "color": {"field": "s", "type": "nominal", "legend": null},
        "strokeWidth": {"field": "s", "type": "nominal", "legend": null}
      }
    },
    {
      "data": {"name": "keys"},
      "mark": {"type": "text", "align": "left", "baseline": "middle", "font": "Liberation Sans", "fontSize": 25.5, "color": "black"},
      "encoding": {
        "x": {"field": "tx", "type": "quantitative"},
        "y": {"field": "y", "type": "quantitative"},
        "text": {"field": "s"}
      }
    }
  ]
}
